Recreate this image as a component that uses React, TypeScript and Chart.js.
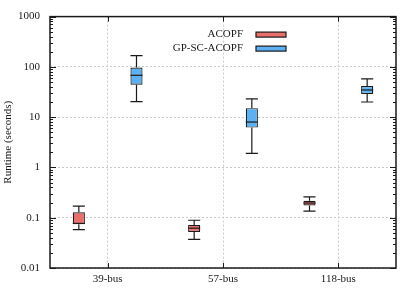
import React, { useEffect, useRef } from "react";
import { Chart, registerables } from "chart.js";

Chart.register(...registerables);

const categories = ["39-bus", "57-bus", "118-bus"];
const seriesNames = ["ACOPF", "GP-SC-ACOPF"];
const seriesColors = ["#e86f6c", "#5cb1f4"];

const acopfMin = [0.058, 0.037, 0.135];
const acopfQ1 = [0.074, 0.052, 0.176];
const acopfMedian = [0.077, 0.062, 0.196];
const acopfQ3 = [0.128, 0.072, 0.217];
const acopfMax = [0.17, 0.089, 0.26];

const gpMin = [20.3, 1.9, 20];
const gpQ1 = [44, 6.2, 29];
const gpMedian = [68, 8, 34.7];
const gpQ3 = [97, 15.1, 41.5];
const gpMax = [168, 23.2, 57.5];

const yMajorTicks = [0.01, 0.1, 1, 10, 100, 1000];
const yTickLabels = ["0.01", "0.1", "1", "10", "100", "1000"];
const minorMultipliers = [2, 3, 4, 5, 6, 7, 8, 9];

const stats = [
  { min: acopfMin, q1: acopfQ1, med: acopfMedian, q3: acopfQ3, max: acopfMax },
  { min: gpMin, q1: gpQ1, med: gpMedian, q3: gpQ3, max: gpMax },
];

const FONT = "'Liberation Serif', 'DejaVu Serif', serif";
const INK = "#1a1a1a";
const GRID = "#cccccc";

const isMajor = (v: number) => yMajorTicks.some((m) => Math.abs(m - v) / m < 1e-6);

const boxPlugin = {
  id: "boxExtras",
  beforeDatasetsDraw(chart: any) {
    const ctx = chart.ctx;
    const y = chart.scales.y;
    ctx.save();
    ctx.strokeStyle = INK;
    ctx.lineWidth = 1.2;
    stats.forEach((s, di) => {
      const meta = chart.getDatasetMeta(di);
      meta.data.forEach((bar: any, i: number) => {
        const x = bar.x;
        const half = bar.width / 2;
        const yMin = y.getPixelForValue(s.min[i]);
        const yMax = y.getPixelForValue(s.max[i]);
        const yQ1 = y.getPixelForValue(s.q1[i]);
        const yQ3 = y.getPixelForValue(s.q3[i]);
        ctx.beginPath();
        ctx.moveTo(x, yMax);
        ctx.lineTo(x, yQ3);
        ctx.moveTo(x, yQ1);
        ctx.lineTo(x, yMin);
        ctx.moveTo(x - half, yMax);
        ctx.lineTo(x + half, yMax);
        ctx.moveTo(x - half, yMin);
        ctx.lineTo(x + half, yMin);
        ctx.stroke();
      });
    });
    ctx.restore();
  },
  afterDatasetsDraw(chart: any) {
    const ctx = chart.ctx;
    const y = chart.scales.y;
    const xs = chart.scales.x;
    const area = chart.chartArea;
    ctx.save();
    ctx.strokeStyle = INK;
    ctx.lineWidth = 1.2;
    stats.forEach((s, di) => {
      const meta = chart.getDatasetMeta(di);
      meta.data.forEach((bar: any, i: number) => {
        const half = bar.width / 2;
        const ym = y.getPixelForValue(s.med[i]);
        ctx.beginPath();
        ctx.moveTo(bar.x - half, ym);
        ctx.lineTo(bar.x + half, ym);
        ctx.stroke();
      });
    });
    ctx.lineWidth = 1;
    y.ticks.forEach((t: any) => {
      const py = Math.round(y.getPixelForValue(t.value)) + 0.5;
      const len = isMajor(t.value) ? 6 : 3;
      ctx.beginPath();
      ctx.moveTo(area.left, py);
      ctx.lineTo(area.left + len, py);
      ctx.moveTo(area.right, py);
      ctx.lineTo(area.right - len, py);
      ctx.stroke();
    });
    categories.forEach((_, i) => {
      const px = Math.round(xs.getPixelForValue(i)) + 0.5;
      ctx.beginPath();
      ctx.moveTo(px, area.bottom);
      ctx.lineTo(px, area.bottom - 5);
      ctx.moveTo(px, area.top);
      ctx.lineTo(px, area.top + 5);
      ctx.stroke();
    });
    ctx.lineWidth = 1.5;
    ctx.strokeRect(area.left, area.top, area.right - area.left, area.bottom - area.top);
    ctx.font = `11px ${FONT}`;
    ctx.textAlign = "right";
    ctx.textBaseline = "middle";
    const legendTextRight = xs.getPixelForValue(1) + 20;
    seriesNames.forEach((name, i) => {
      const ly = area.top + 18 + i * 14;
      ctx.fillStyle = INK;
      ctx.fillText(name, legendTextRight, ly);
      ctx.fillStyle = seriesColors[i];
      ctx.fillRect(legendTextRight + 13, ly - 2.5, 30, 5);
      ctx.lineWidth = 1.2;
      ctx.strokeStyle = INK;
      ctx.strokeRect(legendTextRight + 13, ly - 2.5, 30, 5);
    });
    ctx.restore();
  },
};

export default function App() {
  const ref = useRef<HTMLCanvasElement | null>(null);
  useEffect(() => {
    document.body.style.margin = "0";
    const canvas = ref.current!;
    const chart = new Chart(canvas, {
      type: "bar",
      data: {
        labels: categories,
        datasets: stats.map((s, di) => ({
          label: seriesNames[di],
          data: s.q1.map((q, i) => [q, s.q3[i]]),
          backgroundColor: seriesColors[di],
          borderColor: INK,
          borderWidth: 1.2,
          borderSkipped: false,
          categoryPercentage: 1.0,
          barPercentage: 0.21,
        })),
      },
      options: {
        responsive: false,
        animation: false,
        devicePixelRatio: 1,
        layout: { padding: { top: 10, right: 18, left: 0, bottom: 0 } },
        plugins: { legend: { display: false }, tooltip: { enabled: false } },
        font: { family: FONT },
        scales: {
          x: {
            type: "category",
            offset: true,
            grid: {
              offset: false,
              color: GRID,
              lineWidth: 1,
              drawTicks: false,
            },
            border: { display: false, dash: [2, 2] },
            ticks: { color: INK, font: { family: FONT, size: 11 }, padding: 5 },
            afterFit: (s: any) => {
              s.height = 22;
            },
          },
          y: {
            type: "logarithmic",
            min: 0.01,
            max: 1000,
            afterBuildTicks: (s: any) => {
              const ticks: any[] = [];
              yMajorTicks.forEach((m, k) => {
                ticks.push({ value: m, major: true });
                if (k < yMajorTicks.length - 1) {
                  minorMultipliers.forEach((mm) => ticks.push({ value: m * mm }));
                }
              });
              s.ticks = ticks;
            },
            grid: {
              color: (c: any) => (c.tick && isMajor(c.tick.value) ? GRID : "rgba(0,0,0,0)"),
              lineWidth: 1,
              drawTicks: false,
            },
            border: { display: false, dash: [2, 2] },
            ticks: {
              autoSkip: false,
              color: INK,
              font: { family: FONT, size: 11 },
              padding: 10,
              callback: (v: any) => {
                const idx = yMajorTicks.findIndex((m) => Math.abs(m - v) / m < 1e-6);
                return idx >= 0 ? yTickLabels[idx] : "";
              },
            },
            title: {
              display: true,
              text: "Runtime (seconds)",
              color: INK,
              font: { family: FONT, size: 11 },
              padding: { top: 2, bottom: 0 },
            },
            afterFit: (s: any) => {
              s.width = 50;
            },
          },
        },
      },
      plugins: [boxPlugin],
    });
    return () => chart.destroy();
  }, []);
  return (
    <div style={{ width: 414, height: 290 }}>
      <canvas ref={ref} width={414} height={290} />
    </div>
  );
}
